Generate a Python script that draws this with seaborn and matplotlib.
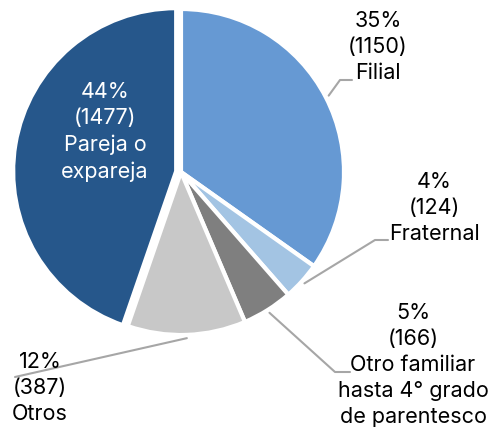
# pie de parentesco con etiquetas y lineas guia
import numpy as np
import matplotlib
matplotlib.use("Agg")
import matplotlib.pyplot as plt
import seaborn as sns

categorias = ["Filial", "Fraternal", "Otro familiar\nhasta 4° grado\nde parentesco", "Otros", "Pareja o\nexpareja"]
casos = [1150, 124, 166, 387, 1477]
porcentajes = ["35%", "4%", "5%", "12%", "44%"]
colores = ["#6699D3", "#A3C4E3", "#7F7F7F", "#C8C8C8", "#26578B"]

sns.set_style("white")
plt.rcParams['font.family'] = ['Inter', 'DejaVu Sans']

W, H = 503, 429
cx, cy, R = 181, 172, 163

fig = plt.figure(figsize=(W / 100, H / 100), dpi=100)
ax = fig.add_axes([0, 0, 1, 1])

wedges, _ = ax.pie(casos, colors=colores, startangle=90, counterclock=False,
                   explode=[0, 0, 0, 0, 0.03],
                   wedgeprops=dict(edgecolor="white", linewidth=3))

ax.set_xlim(-cx / R, (W - cx) / R)
ax.set_ylim(-(H - cy) / R, cy / R)
ax.set_aspect("equal")
ax.axis("off")


def px(x, y):
    # pixeles de la imagen -> coordenadas del eje
    return (x - cx) / R, (cy - y) / R


# posicion del texto (centro del bloque) y codos de la linea guia, en pixeles
layout = {
    0: dict(texto=(378, 47), codo=[(340, 80), (352, 80)]),
    1: dict(texto=(434, 208), codo=[(375, 240), (388, 240)]),
    2: dict(texto=(413, 365), codo=[(335, 372), (350, 372)]),
    3: dict(texto=(40, 388), codo=[(15, 377)]),
}

for i, w in enumerate(wedges):
    etiqueta = f"{porcentajes[i]}\n({casos[i]})\n{categorias[i]}"
    if i == 4:
        tx, ty = px(105, 132)
        ax.text(tx, ty, etiqueta, ha="center", va="center", color="white",
                fontsize=15.5, linespacing=1.38)
        continue
    ang = np.deg2rad((w.theta1 + w.theta2) / 2)
    x0, y0 = 1.02 * np.cos(ang), 1.02 * np.sin(ang)
    pts = [(x0, y0)] + [px(*p) for p in layout[i]["codo"]]
    xs, ys = zip(*pts)
    ax.plot(xs, ys, color="#A6A6A6", lw=1.5, zorder=1)
    tx, ty = px(*layout[i]["texto"])
    ax.text(tx, ty, etiqueta, ha="center", va="center", color="black",
            fontsize=15.5, linespacing=1.38, zorder=2)

fig.savefig("out.png", dpi=100)
